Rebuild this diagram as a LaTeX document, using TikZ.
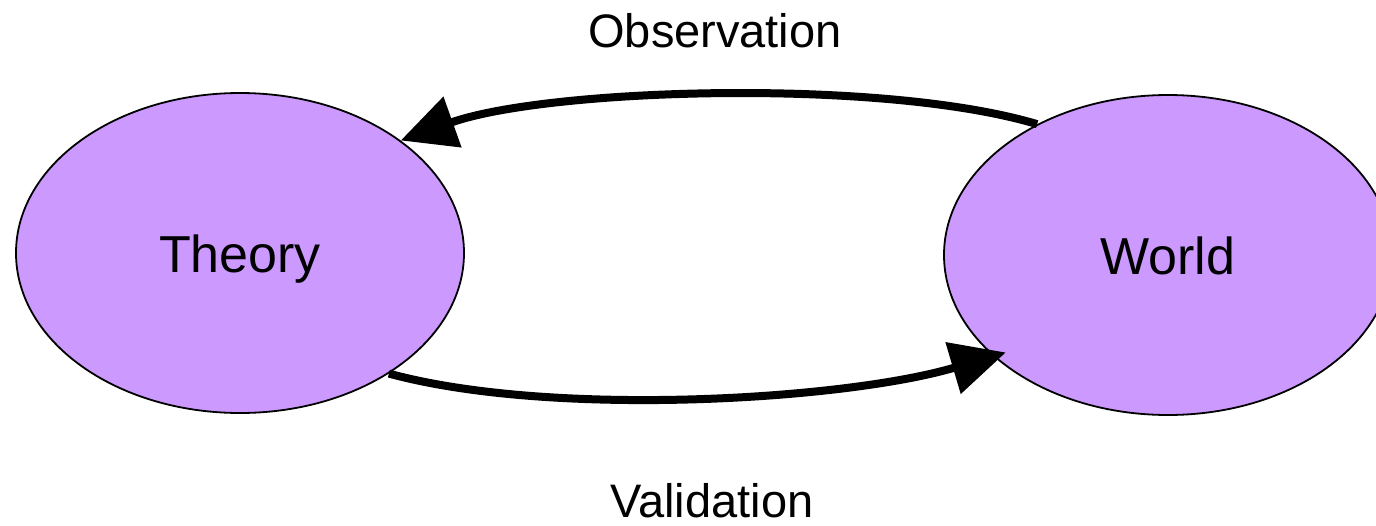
\documentclass[tikz,border=0pt]{standalone}
\usepackage{fontspec}
\setmainfont{Liberation Sans}
\usetikzlibrary{shapes.geometric,arrows.meta}
\definecolor{lav}{RGB}{204,153,255}
\tikzset{
  blob/.style={ellipse, draw=black, line width=1.8pt, fill=lav, minimum width=448pt, minimum height=320pt, inner sep=0pt, text height=38pt, text depth=0pt, font=\fontsize{52}{60}\selectfont},
  lbl/.style={anchor=base, inner sep=0pt, font=\fontsize{47}{56}\selectfont},
  flow/.style={line width=8pt, -{Triangle[length=55pt,width=52pt]}}
}
\begin{document}
\begin{tikzpicture}[x=1pt,y=-1pt]
\useasboundingbox (0,0) rectangle (1376,525);
\clip (0,0) rectangle (1376,525);
\node[blob] (t) at (240,253) {Theory};
\node[blob] (w) at (1168,255) {World};
\node[lbl] (obs) at (715,47) {Observation};
\node[lbl] (val) at (712,517) {Validation};
\draw[flow] (w.135.6) .. controls (883,78) and (548,88) .. (t.35.6);
\draw[flow] (t.-39) .. controls (552,418) and (845,400) .. ([shift={(10,-6)}]w.-149);
\end{tikzpicture}
\end{document}
